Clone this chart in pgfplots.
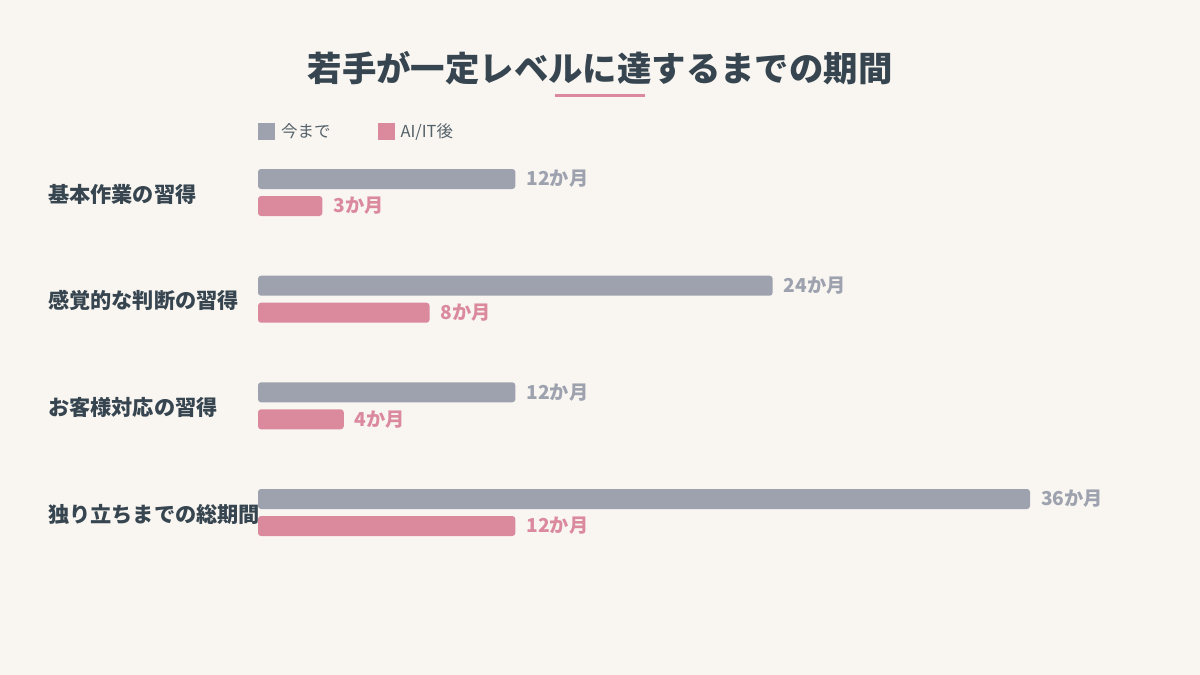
\documentclass[border=0pt]{standalone}
\usepackage{pgfplots}
\pgfplotsset{compat=1.18}
\usepackage{fontspec}
\setmainfont{Noto Sans CJK JP}
\definecolor{bg}{HTML}{F9F6F2}
\definecolor{graybar}{HTML}{9DA2AE}
\definecolor{pinkbar}{HTML}{DB8A9E}
\definecolor{titlec}{HTML}{36454F}
\begin{document}
\begin{tikzpicture}[x=1pt,y=1pt]
\fill[bg] (0,0) rectangle (1200,-675);
\useasboundingbox (0,0) rectangle (1200,-675);
\node[text=titlec, font=\bfseries\fontsize{34.4}{34.4}\selectfont, inner sep=0pt] at (600,-68) {若手が一定レベルに達するまでの期間};
\fill[pinkbar] (555,-93.5) rectangle (645,-96.5);
\begin{axis}[
  at={(258pt,0pt)}, anchor=north west,
  scale only axis, width=772pt, height=675pt,
  xmin=0, xmax=36, ymin=0, ymax=675, y dir=reverse,
  clip=false,
  axis line style={draw=none},
  major tick length=0pt,
  xtick=\empty,
  ytick={194,300.7,407.3,514},
  yticklabels={基本作業の習得,感覚的な判断の習得,お客様対応の習得,独り立ちまでの総期間},
  yticklabel style={anchor=west, inner sep=0pt, xshift=-210pt, text=titlec, font=\bfseries\fontsize{21.2}{21.2}\selectfont},
  xbar, bar width=20pt, bar shift=0pt,
  point meta=explicit symbolic,
  nodes near coords,
  legend columns=2,
  legend style={at={(axis cs:0,131.5)}, anchor=west, draw=none, fill=none, inner sep=0pt, outer sep=0pt,
    nodes={inner sep=0pt, text=titlec!85}, font=\fontsize{16.5}{16.5}\selectfont,
    /tikz/every odd column/.append style={column sep=6pt},
    /tikz/every even column/.append style={column sep=47pt}},
]
\addplot[fill=graybar, draw=none, rounded corners=3pt,
  every node near coord/.append style={anchor=west, inner sep=0pt, xshift=11pt, text=graybar, font=\bfseries\fontsize{19.2}{19.2}\selectfont},
  legend image code/.code={\fill[graybar, sharp corners] (0pt,-8.5pt) rectangle (17pt,8.5pt);}]
  coordinates {(12,179) [12か月] (24,285.7) [24か月] (12,392.3) [12か月] (36,499) [36か月]};
\addlegendentry{今まで}
\addplot[fill=pinkbar, draw=none, rounded corners=3pt,
  every node near coord/.append style={anchor=west, inner sep=0pt, xshift=11pt, text=pinkbar, font=\bfseries\fontsize{19.2}{19.2}\selectfont},
  legend image code/.code={\fill[pinkbar, sharp corners] (0pt,-8.5pt) rectangle (17pt,8.5pt);}]
  coordinates {(3,206) [3か月] (8,312.7) [8か月] (4,419.3) [4か月] (12,526) [12か月]};
\addlegendentry{AI/IT後}
\end{axis}
\end{tikzpicture}
\end{document}
